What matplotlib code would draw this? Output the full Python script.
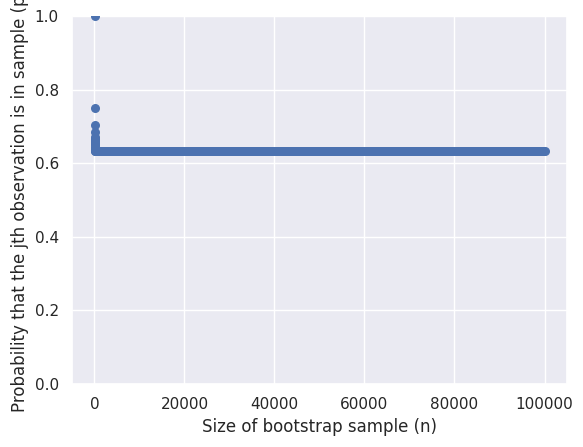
import numpy as np
import matplotlib
matplotlib.use("Agg")
import matplotlib.pyplot as plt
import seaborn as sns

sns.set_theme()

# Early sample sizes and probabilities
early_n = [1, 2, 3, 4, 5, 6, 7, 8, 9, 10, 15, 20, 30, 50, 100, 200, 400]
early_p = [1.0, 0.75, 0.704, 0.684, 0.672, 0.665, 0.660, 0.656, 0.654, 0.651,
           0.645, 0.642, 0.638, 0.636, 0.634, 0.633, 0.632]

# Plateau: probability stays at ~0.632 up to n = 100000
plateau_value = 0.632
plateau_n = np.arange(500, 100001, 250)
plateau_p = np.full(plateau_n.shape, plateau_value)

n_vals = np.concatenate([early_n, plateau_n])
p_vals = np.concatenate([early_p, plateau_p])

fig = plt.figure(figsize=(5.83, 4.47), dpi=100)
ax = fig.add_axes([72/583, 63/447, 495/583, 368/447])
ax.scatter(n_vals, p_vals, s=30, color="#4c72b0", zorder=3)
ax.set_ylim(0, 1.0)
ax.set_xlabel("Size of bootstrap sample (n)")
ax.set_ylabel("Probability that the jth observation is in sample (p)")
fig.savefig("out.png", dpi=100)
